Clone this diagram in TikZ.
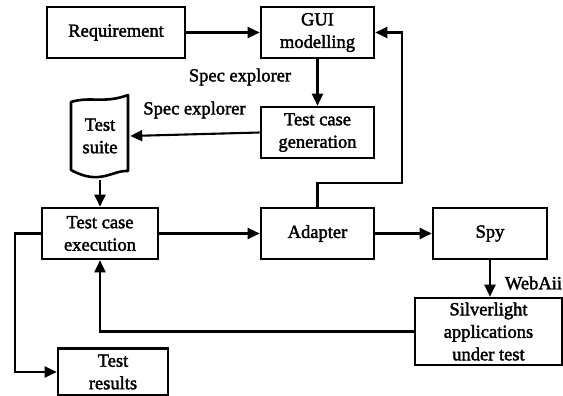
\documentclass[tikz,border=0pt]{standalone}
\usepackage{fontspec}
\setmainfont{Liberation Serif}
\newfontfamily\heavy[BoldFont={Liberation Serif}, BoldFeatures={FakeBold=2}]{Liberation Serif}
\usetikzlibrary{arrows.meta}
\tikzset{
  txt/.style={font=\heavy\bfseries\fontsize{18.5}{22.5}\selectfont},
  box/.style={draw, line width=2.6pt, rectangle, align=center, inner sep=0pt, txt},
  conn/.style={line width=2.1pt, -{Triangle[length=12pt,width=11pt]}},
  lbl/.style={txt, inner sep=0pt}
}
\begin{document}
\begin{tikzpicture}[x=1pt,y=-1pt]
\useasboundingbox (0,0) rectangle (563,396);
\node[box, minimum width=138pt, minimum height=51pt] (req) at (116,32.5) {Requirement};
\node[box, minimum width=113pt, minimum height=51pt] (gui) at (317.5,32.5) {GUI\\modelling};
\node[box, minimum width=113pt, minimum height=51pt] (tcg) at (317.5,132.5) {Test case\\generation};
\node[box, draw=none, minimum width=58pt, minimum height=86pt] (ts) at (100,136) {Test\\suite};
\node[box, minimum width=116pt, minimum height=51pt] (tce) at (100,233.5) {Test case\\execution};
\node[box, minimum width=113pt, minimum height=51pt] (ad) at (317.5,233.5) {Adapter};
\node[box, minimum width=114pt, minimum height=51pt] (spy) at (490,233.5) {Spy};
\node[box, minimum width=147pt, minimum height=67pt] (sl) at (488.5,331.5) {Silverlight\\applications\\under test};
\node[box, minimum width=110pt, minimum height=47pt] (tr) at (113,372) {Test\\results};
% test suite outline
\draw[line width=2.6pt, line join=round] (71,102) .. controls (90,96) and (104,104) .. (128,95)
  -- (128,171) .. controls (112,170) and (100,186) .. (71,170) -- cycle;
\node[lbl] (l1) at (240,77) {Spec explorer};
\node[lbl] (l2) at (194.5,110) {Spec explorer};
\node[lbl] (l3) at (533.5,283) {WebAii};
\coordinate (c1) at (402,183);
\coordinate (c2) at (15,233.5);
\draw[conn] (req) -- (gui);
\draw[conn] (gui) -- (tcg);
\draw[conn] (tcg.west) -- (ts.east);
\draw[conn] (ts.south) -- (tce.north);
\draw[conn] (tce) -- (ad);
\draw[conn] (ad) -- (spy);
\draw[conn] (ad.north) |- (c1) |- (gui.east);
\draw[conn] (spy.south) -- (spy.south |- sl.north);
\draw[conn] (sl.west) -| (tce.south);
\draw[conn] (tce.west) -- (c2) |- (tr.west);
\end{tikzpicture}
\end{document}
